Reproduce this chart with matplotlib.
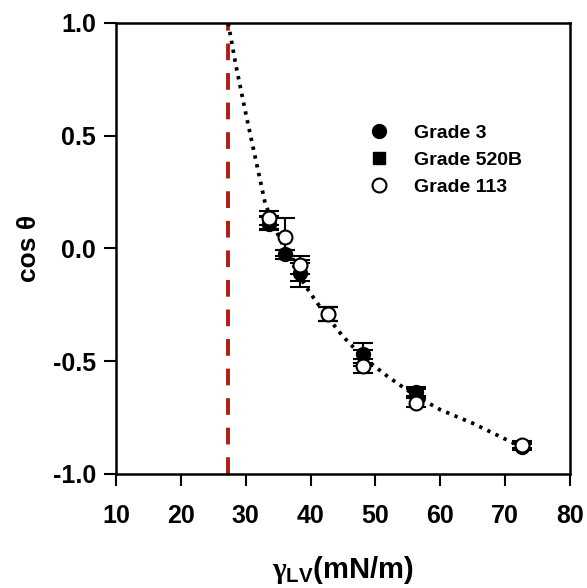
import numpy as np
import matplotlib
matplotlib.use('Agg')
import matplotlib.pyplot as plt
from matplotlib.lines import Line2D

plt.rcParams['font.family'] = ['Liberation Sans', 'DejaVu Sans']
plt.rcParams['font.weight'] = 'bold'
plt.rcParams['mathtext.fontset'] = 'custom'
plt.rcParams['mathtext.rm'] = 'Liberation Serif'
plt.rcParams['mathtext.it'] = 'Liberation Serif:italic'
plt.rcParams['mathtext.bf'] = 'Liberation Sans:bold'

# surface tension of liquids (mN/m)
gamma = [33.6, 36.0, 38.4, 42.7, 48.1, 56.3, 72.6]

# cos theta for each paper grade, with error bars
grade3 = [0.11, -0.025, -0.11, -0.29, -0.47, -0.635, -0.88]
grade3_err = [0.03, 0.02, 0.06, 0.03, 0.05, 0.02, 0.015]
grade520b = [0.115, -0.025, -0.105, -0.29, -0.48, -0.645, -0.875]
grade520b_err = [0.03, 0.02, 0.04, 0.03, 0.03, 0.02, 0.015]
grade113 = [0.135, 0.05, -0.075, -0.29, -0.52, -0.685, -0.87]
grade113_err = [0.03, 0.085, 0.04, 0.03, 0.03, 0.02, 0.015]

# fitted curve
fit_x = [27.3, 28.5, 30.0, 31.5, 33.0, 34.5, 36.0, 38.0, 40.0, 42.5, 45.0,
         48.0, 52.0, 56.0, 60.0, 65.0, 70.0, 73.0]
fit_y = [1.0, 0.81, 0.60, 0.40, 0.2, 0.09, 0.0, -0.11, -0.2, -0.3, -0.39,
         -0.48, -0.57, -0.65, -0.715, -0.775, -0.845, -0.885]

gamma_c = 27.3

fig = plt.figure(figsize=(5.87, 5.88), dpi=100)
ax = fig.add_axes([0.1976, 0.1939, 0.7734, 0.767])

ax.axvline(gamma_c, color='#b01c10', lw=2.8, ls=(0, (4.3, 3.3)), zorder=1)
ax.plot(fit_x, fit_y, color='black', lw=2.7, ls=(0, (0.9, 1.5)), zorder=2)

eb = dict(capsize=7, elinewidth=1.5, capthick=1.5)
ax.errorbar(gamma, grade3, yerr=grade3_err, fmt='o', color='black', ms=10,
            zorder=3, **eb)
ax.errorbar(gamma, grade520b, yerr=grade520b_err, fmt='s', color='black', ms=7,
            zorder=3, **eb)
ax.errorbar(gamma, grade113, yerr=grade113_err, fmt='o', color='black', mfc='white',
            mew=1.5, ms=10, zorder=4, **eb)

ax.set_xlim(10, 80)
ax.set_ylim(-1.0, 1.0)
ax.set_xticks([10, 20, 30, 40, 50, 60, 70, 80])
ax.set_yticks([-1.0, -0.5, 0.0, 0.5, 1.0])
ax.set_yticklabels(['-1.0', '-0.5', '0.0', '0.5', '1.0'])
ax.tick_params(direction='out', length=8.5, width=1.5, labelsize=18)
ax.tick_params(axis='x', pad=13)
ax.tick_params(axis='y', pad=6)
for s in ax.spines.values():
    s.set_linewidth(1.8)

ax.set_ylabel(r'cos θ', fontsize=19, fontweight='bold', labelpad=8)
ax.set_xlabel(r'$\mathrm{\gamma}_{\mathbf{LV}}$(mN/m)', fontsize=21,
              fontweight='bold', labelpad=19)

handles = [
    Line2D([], [], ls='none', marker='o', color='black', ms=10),
    Line2D([], [], ls='none', marker='s', color='black', ms=8),
    Line2D([], [], ls='none', marker='o', color='black', mfc='white', mew=1.5, ms=10),
]
labels = ['Grade 3', 'Grade 520B', 'Grade 113']
ax.legend(handles, labels, loc='upper left', bbox_to_anchor=(0.52, 0.815),
          frameon=False, fontsize=14, handletextpad=1.3, labelspacing=0.5,
          handlelength=1.0)

fig.savefig('out.png', dpi=100)
